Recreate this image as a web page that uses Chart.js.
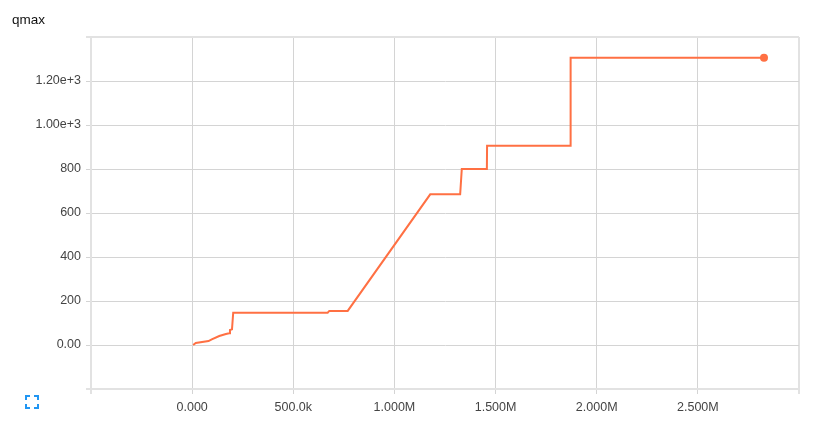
<!DOCTYPE html>
<html>
<head>
<meta charset="utf-8">
<script src="https://cdn.jsdelivr.net/npm/chart.js@4/dist/chart.umd.min.js"></script>
<style>
  html, body { margin: 0; padding: 0; background: #fff; }
  #wrap { position: relative; width: 816px; height: 433px; }
  #c { position: absolute; left: 0; top: 0; }
  #title { position: absolute; left: 12px; top: 12px; font: 13.5px "Liberation Sans", Arial, sans-serif; color: #111; }
  #icon { position: absolute; left: 25px; top: 395px; }
</style>
</head>
<body>
<div id="wrap">
  <canvas id="c" width="816" height="433"></canvas>
  <div id="title">qmax</div>
  <svg id="icon" width="14" height="14" viewBox="0 0 14 14">
    <path d="M1 5V1H5M9 1H13V5M13 9V13H9M5 13H1V9" fill="none" stroke="#2196f3" stroke-width="2"/>
  </svg>
</div>
<script>
// Data (step, value)
const steps  = [5000, 18000, 81000, 97000, 134000, 167000, 183000, 187000, 197000, 203000, 670000, 678000, 769000, 1177000, 1325000, 1333000, 1457000, 1458000, 1870000, 1871000, 2827000];
const values = [0, 9, 18, 26, 41, 50, 53, 68, 71, 147, 147, 155, 155, 685, 685, 800, 800, 906, 906, 1306, 1306];

const xTickValues = [0, 500000, 1000000, 1500000, 2000000, 2500000];
const xTickLabels = ["0.000", "500.0k", "1.000M", "1.500M", "2.000M", "2.500M"];
const yTickValues = [0, 200, 400, 600, 800, 1000, 1200];
const yTickLabels = ["0.00", "200", "400", "600", "800", "1.00e+3", "1.20e+3"];

const X_MIN = -500000, X_MAX = 3000000, Y_MIN = -200, Y_MAX = 1400;

const pts = steps.map((s, i) => ({ x: s, y: values[i] }));
const FONT = { family: '"Liberation Sans", Arial, sans-serif', size: 12.5 };

function edgeColor(ctx, n) {
  return (ctx.index === 0 || ctx.index === n - 1) ? '#e2e2e2' : '#d4d4d4';
}
function edgeWidth(ctx, n) {
  return (ctx.index === 0 || ctx.index === n - 1) ? 2 : 1;
}

new Chart(document.getElementById('c'), {
  type: 'line',
  data: {
    datasets: [{
      data: pts,
      borderColor: '#ff7043',
      backgroundColor: '#ff7043',
      borderWidth: 2,
      tension: 0,
      pointRadius: (ctx) => ctx.dataIndex === pts.length - 1 ? 4 : 0,
      pointHoverRadius: 0,
      pointBorderWidth: 0,
      fill: false
    }]
  },
  options: {
    responsive: false,
    animation: false,
    events: [],
    layout: { padding: { top: 37, right: 17, left: 0, bottom: 0 } },
    plugins: { legend: { display: false }, tooltip: { enabled: false }, title: { display: false } },
    scales: {
      x: {
        type: 'linear',
        min: X_MIN, max: X_MAX,
        afterBuildTicks: (axis) => {
          axis.ticks = [X_MIN, ...xTickValues, X_MAX].map(v => ({ value: v }));
        },
        afterFit: (axis) => { axis.height = 44; },
        ticks: {
          autoSkip: false, maxRotation: 0, padding: 6, color: '#444', font: FONT,
          callback: (v) => { const i = xTickValues.indexOf(v); return i >= 0 ? xTickLabels[i] : ''; }
        },
        grid: {
          color: (ctx) => edgeColor(ctx, xTickValues.length + 2),
          lineWidth: (ctx) => edgeWidth(ctx, xTickValues.length + 2),
          tickLength: 5, drawTicks: true
        },
        border: { display: true, color: '#e2e2e2', width: 2 }
      },
      y: {
        type: 'linear',
        min: Y_MIN, max: Y_MAX,
        afterBuildTicks: (axis) => {
          axis.ticks = [Y_MIN, ...yTickValues, Y_MAX].map(v => ({ value: v }));
        },
        afterFit: (axis) => { axis.width = 91; },
        ticks: {
          autoSkip: false, padding: 5, color: '#444', font: FONT,
          callback: (v) => { const i = yTickValues.indexOf(v); return i >= 0 ? yTickLabels[i] : ''; }
        },
        grid: {
          color: (ctx) => edgeColor(ctx, yTickValues.length + 2),
          lineWidth: (ctx) => edgeWidth(ctx, yTickValues.length + 2),
          tickLength: 5, drawTicks: true
        },
        border: { display: true, color: '#e2e2e2', width: 2 }
      }
    }
  }
});
</script>
</body>
</html>
